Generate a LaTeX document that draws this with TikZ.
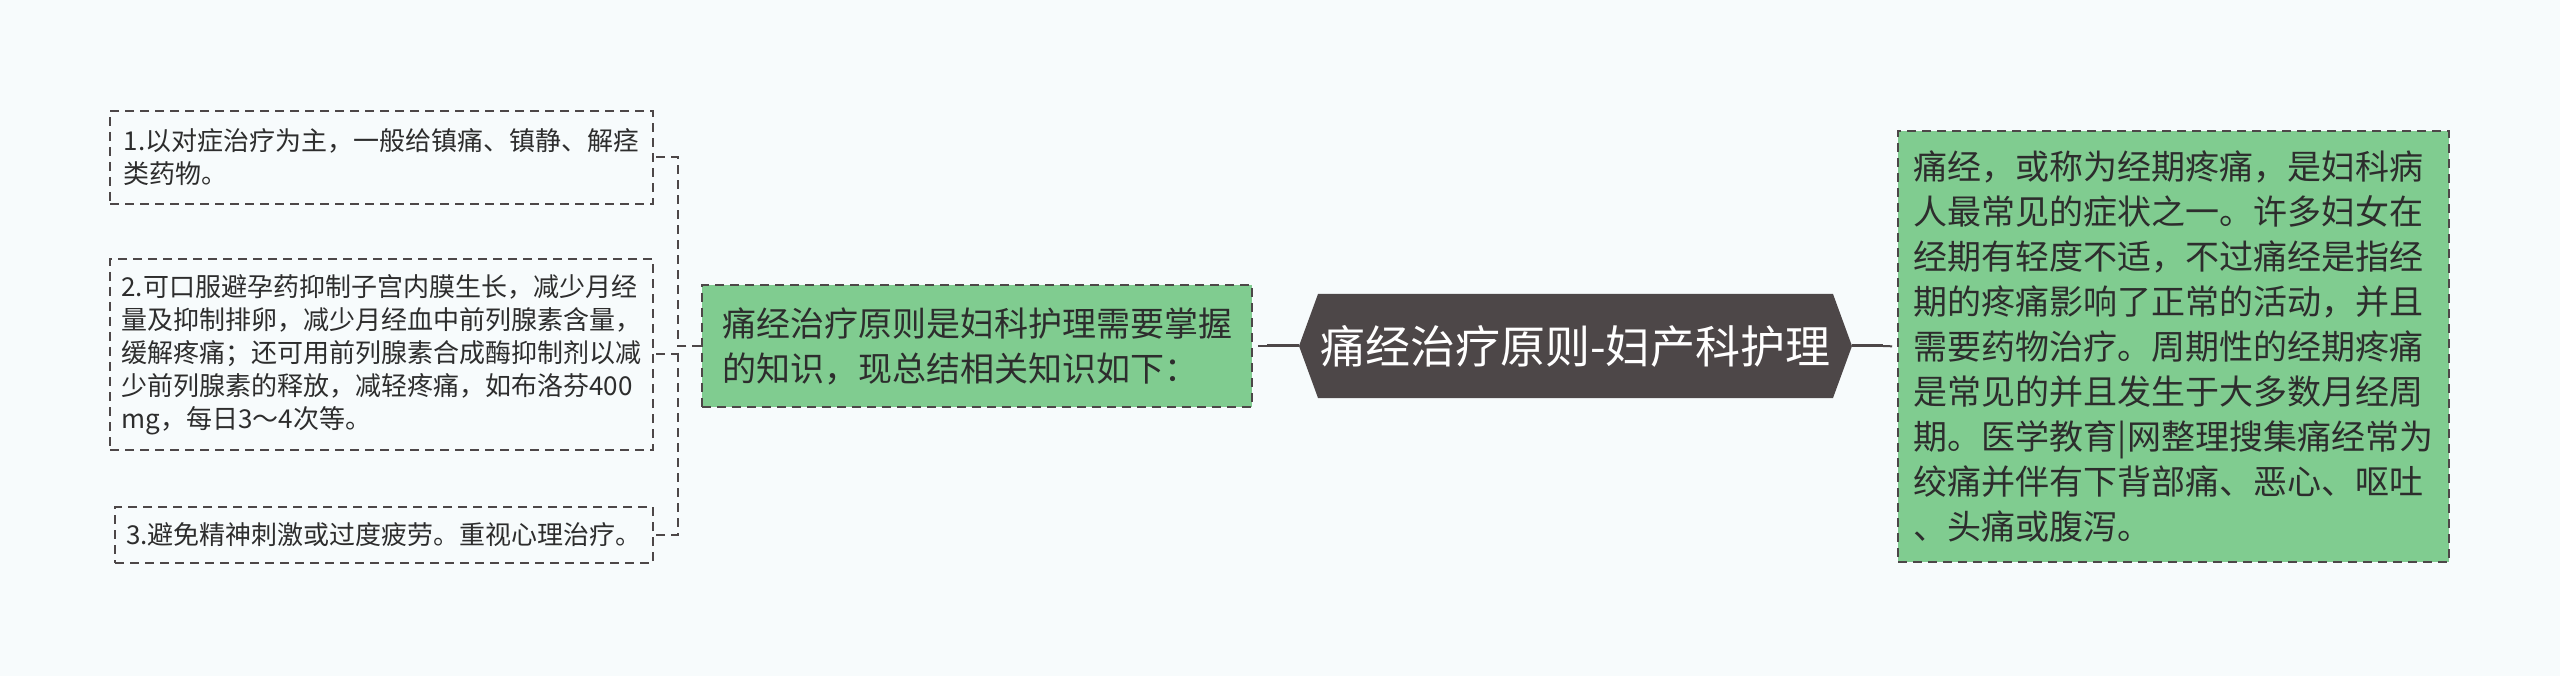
\documentclass[tikz,border=0pt]{standalone}
\usepackage{fontspec}
\newfontfamily\cjk{Noto Sans CJK SC}
\definecolor{bgc}{RGB}{247,251,252}
\definecolor{greenfill}{RGB}{128,204,144}
\definecolor{darkc}{RGB}{77,71,72}
\definecolor{txt}{RGB}{45,45,45}
\begin{document}
\begin{tikzpicture}[x=1pt,y=-1pt,
  dashc/.style={draw=darkc, line width=2pt, dash pattern=on 9pt off 6pt},
  solidc/.style={draw=darkc, line width=3pt},
  leafbox/.style={dashc, fill=bgc, inner sep=0pt, align=left, text=txt,
    font=\cjk\fontsize{26}{33}\selectfont},
  greenbox/.style={dashc, fill=greenfill, inner sep=0pt, align=left, text=txt,
    font=\cjk\fontsize{34}{45}\selectfont},
  titlebox/.style={inner sep=0pt, text=white, font=\cjk\fontsize{45}{54}\selectfont,
    path picture={\fill[darkc] (path picture bounding box.west)
      -- ([xshift=19pt]path picture bounding box.north west)
      -- ([xshift=-19pt]path picture bounding box.north east)
      -- (path picture bounding box.east)
      -- ([xshift=-19pt]path picture bounding box.south east)
      -- ([xshift=19pt]path picture bounding box.south west) -- cycle;}}
]
\fill[bgc] (0,0) rectangle (2560,676);
\useasboundingbox (0,0) rectangle (2560,676);

% central title
\node[titlebox, minimum width=553pt, minimum height=104pt] (c) at (1575.5,346) {痛经治疗原则-妇产科护理};

% right description
\node[greenbox, minimum width=551pt, minimum height=431pt] (r) at (2173.5,346.5)
 {痛经，或称为经期疼痛，是妇科病\\人最常见的症状之一。许多妇女在\\经期有轻度不适，不过痛经是指经\\期的疼痛影响了正常的活动，并且\\需要药物治疗。周期性的经期疼痛\\是常见的并且发生于大多数月经周\\期。医学教育|网整理搜集痛经常为\\绞痛并伴有下背部痛、恶心、呕吐\\、头痛或腹泻。};

% middle
\node[greenbox, minimum width=550pt, minimum height=122pt] (m) at (977,346)
 {痛经治疗原则是妇科护理需要掌握\\的知识，现总结相关知识如下：};

% leaves
\node[leafbox, minimum width=543pt, minimum height=93pt] (b1) at (381.5,157.5)
 {1.以对症治疗为主，一般给镇痛、镇静、解痉\\类药物。};
\node[leafbox, minimum width=543pt, minimum height=191pt] (b2) at (381.5,354.5)
 {2.可口服避孕药抑制子宫内膜生长，减少月经\\量及抑制排卵，减少月经血中前列腺素含量，\\缓解疼痛；还可用前列腺素合成酶抑制剂以减\\少前列腺素的释放，减轻疼痛，如布洛芬400\\mg，每日3～4次等。};
\node[leafbox, minimum width=538pt, minimum height=56pt] (b3) at (384,535)
 {3.避免精神刺激或过度疲劳。重视心理治疗。};

% connectors centre -> right
\draw[solidc] (c.east) -- ++(31,0) coordinate (cr);
\draw[dashc] (cr) -- (r.west);
% centre -> middle
\draw[solidc] (c.west) -- ++(-32,0) coordinate (cl);
\draw[dashc] (cl) -- (m.east);
% middle -> leaves
\coordinate (bx) at (678,346);
\draw[dashc] (m.west) -- (bx) |- (b1.east);
\draw[dashc] (m.west) -- (bx) |- (b2.east);
\draw[dashc] (m.west) -- (bx) |- (b3.east);
\end{tikzpicture}
\end{document}
